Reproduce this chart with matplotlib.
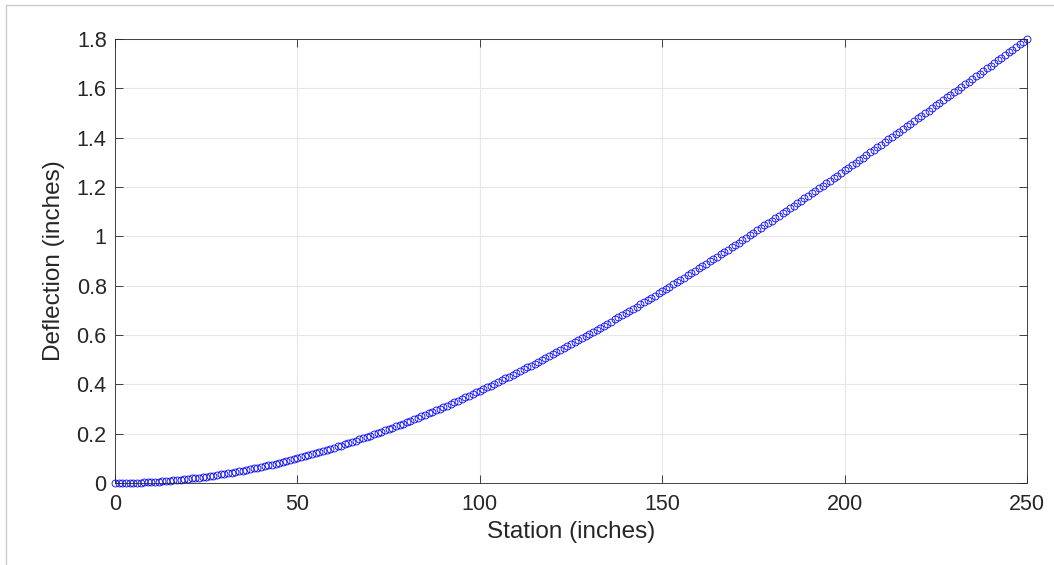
import matplotlib
matplotlib.use("Agg")
import matplotlib.pyplot as plt
from matplotlib.lines import Line2D
from matplotlib.ticker import FuncFormatter

# station in inches, one point per inch
station = list(range(0, 251))
# deflection in thousandths of an inch
deflection_milli = [
    0, 0, 0, 0, 1, 1, 2, 2, 3, 3, 4, 5, 6, 7, 8, 10, 11, 12, 14, 15, 17, 19, 20, 22, 24, 26, 28, 30, 33, 35,
    37, 40, 42, 45, 48, 50, 53, 56, 59, 62, 65, 69, 72, 75, 79, 82, 86, 89, 93, 97, 101, 105, 109, 113, 117,
    121, 125, 130, 134, 139, 143, 148, 152, 157, 162, 167, 172, 177, 182, 187, 192, 197, 202, 208, 213, 219,
    224, 230, 235, 241, 247, 253, 259, 265, 271, 277, 283, 289, 295, 302, 308, 314, 321, 327, 334, 340, 347,
    354, 361, 368, 374, 381, 388, 395, 402, 410, 417, 424, 431, 439, 446, 453, 461, 469, 476, 484, 491, 499,
    507, 515, 523, 530, 538, 546, 554, 562, 571, 579, 587, 595, 604, 612, 620, 629, 637, 646, 654, 663, 671,
    680, 689, 697, 706, 715, 724, 733, 742, 751, 760, 769, 778, 787, 796, 805, 814, 823, 833, 842, 851, 861,
    870, 879, 889, 898, 908, 917, 927, 937, 946, 956, 965, 975, 985, 995, 1004, 1014, 1024, 1034, 1044, 1054,
    1064, 1074, 1084, 1094, 1104, 1114, 1124, 1134, 1144, 1154, 1164, 1175, 1185, 1195, 1205, 1216, 1226,
    1236, 1246, 1257, 1267, 1278, 1288, 1298, 1309, 1319, 1330, 1340, 1351, 1361, 1372, 1382, 1393, 1403,
    1414, 1424, 1435, 1446, 1456, 1467, 1478, 1488, 1499, 1510, 1520, 1531, 1542, 1552, 1563, 1574, 1584,
    1595, 1606, 1617, 1627, 1638, 1649, 1660, 1670, 1681, 1692, 1703, 1714, 1724, 1735, 1746, 1757, 1768,
    1778, 1789, 1800,
]
deflection = [d / 1000 for d in deflection_milli]

x_ticks = [0, 50, 100, 150, 200, 250]
y_ticks = [0, 0.2, 0.4, 0.6, 0.8, 1.0, 1.2, 1.4, 1.6, 1.8]

plt.rcParams['font.family'] = ['Liberation Sans', 'DejaVu Sans']

fig = plt.figure(figsize=(10.54, 5.65), dpi=100)
ax = fig.add_axes([115 / 1054, 1 - 483 / 565, (1027 - 115) / 1054, (483 - 39) / 565])

# grey window edge, only top and left show in the screenshot
fig.add_artist(Line2D([6 / 1054, 1], [1 - 5 / 565, 1 - 5 / 565], transform=fig.transFigure,
                      color='#cccccc', linewidth=1))
fig.add_artist(Line2D([6 / 1054, 6 / 1054], [0, 1 - 5 / 565], transform=fig.transFigure,
                      color='#cccccc', linewidth=1))

ax.plot(station, deflection, 'o', markerfacecolor='none', markeredgecolor='#0000ff',
        markersize=5, markeredgewidth=0.6, clip_on=False)

ax.set_xlim(0, 250)
ax.set_ylim(0, 1.8)
ax.set_xticks(x_ticks)
ax.set_yticks(y_ticks)
ax.yaxis.set_major_formatter(FuncFormatter(lambda v, p: '%g' % round(v, 2)))

ax.grid(True, color='#e6e6e6', linewidth=0.8)
ax.set_axisbelow(True)
for s in ax.spines.values():
    s.set_color('#262626')
    s.set_linewidth(0.6)
ax.tick_params(direction='in', top=True, right=True, length=6, width=0.6, color='#262626',
               labelsize=15.5, labelcolor='#262626')
ax.tick_params(axis='x', pad=8)
ax.tick_params(axis='y', pad=6)

ax.set_xlabel('Station (inches)', fontsize=17.5, color='#262626', labelpad=4)
ax.set_ylabel('Deflection (inches)', fontsize=17.5, color='#262626', labelpad=8)

fig.savefig('out.png', dpi=100)
